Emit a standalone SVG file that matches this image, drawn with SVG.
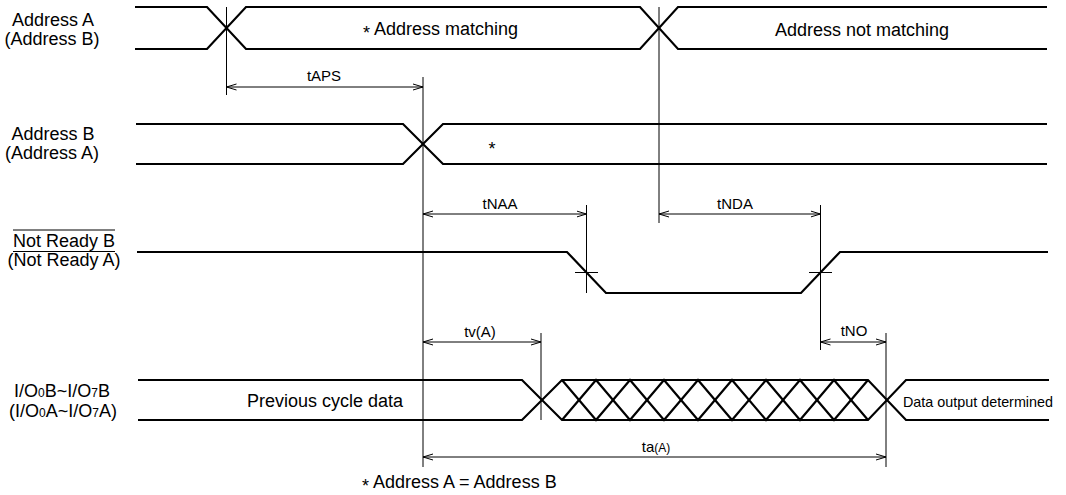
<svg xmlns="http://www.w3.org/2000/svg" width="1066" height="495" viewBox="0 0 1066 495">
<style>
  .sig{fill:none;stroke:#000;stroke-width:2.2;stroke-linejoin:miter}
  .thin{fill:none;stroke:#000;stroke-width:1}
  .dim{fill:none;stroke:#000;stroke-width:1;marker-start:url(#ah);marker-end:url(#ah)}
  text{font-family:"Liberation Sans",Arial,Helvetica,sans-serif;fill:#000}
  .lbl{font-size:18px;text-anchor:middle}
  .big{font-size:18px}
  .t{font-size:15px;text-anchor:middle}
  .sub{font-size:12px}
</style>
<defs>
  <marker id="ah" viewBox="0 0 10 8" refX="10" refY="4" markerWidth="10" markerHeight="8" markerUnits="userSpaceOnUse" orient="auto-start-reverse">
    <path d="M0,1 L10,4 L0,7" fill="none" stroke="#000" stroke-width="1"/>
  </marker>
</defs>
<rect width="1066" height="495" fill="#fff"/>

<g id="sig-address-a">
  <text class="lbl" x="53" y="26">Address A</text>
  <text class="lbl" x="52" y="45">(Address B)</text>
  <path class="sig" d="M135,7 H207 L246,49 H640 L678,7 H1047"/>
  <path class="sig" d="M135,49 H207 L246,7 H640 L678,49 H1047"/>
  <text class="big" x="363" y="35"><tspan dy="4">*</tspan><tspan dy="-4"> Address matching</tspan></text>
  <text class="big" x="862" y="36" text-anchor="middle">Address not matching</text>
</g>

<g id="sig-address-b">
  <text class="lbl" x="53" y="140">Address B</text>
  <text class="lbl" x="52" y="159">(Address A)</text>
  <path class="sig" d="M136,124 H403 L443,164 H1047"/>
  <path class="sig" d="M136,164 H403 L443,124 H1047"/>
  <text class="big" x="492" y="155" text-anchor="middle">*</text>
</g>

<g id="sig-not-ready">
  <line class="thin" x1="13" y1="230" x2="115" y2="230" stroke-width="1.3"/>
  <text class="lbl" x="64" y="247">Not Ready B</text>
  <line class="thin" x1="13" y1="251.5" x2="115" y2="251.5" stroke-width="1.3"/>
  <text class="lbl" x="64" y="266">(Not Ready A)</text>
  <path class="sig" d="M137,252 H567 L606,293 H801 L840,252 H1048"/>
</g>

<g id="sig-io">
  <text class="lbl" x="62" y="397">I/O<tspan class="sub">0</tspan>B~I/O<tspan class="sub">7</tspan>B</text>
  <text class="lbl" x="63" y="417">(I/O<tspan class="sub">0</tspan>A~I/O<tspan class="sub">7</tspan>A)</text>
  <path class="sig" d="M138,380 H522 L562,420 H868 L906,380 H1049"/>
  <path class="sig" d="M138,420 H522 L562,380 H868 L906,420 H1049"/>
  <polyline class="sig" points="562,380 596,420 630,380 664,420 698,380 732,420 766,380 800,420 834,380 868,420"/>
  <polyline class="sig" points="562,420 596,380 630,420 664,380 698,420 732,380 766,420 800,380 834,420 868,380"/>
  <text class="big" x="325" y="407" text-anchor="middle">Previous cycle data</text>
  <text x="903" y="407" font-size="15" textLength="150" lengthAdjust="spacingAndGlyphs">Data output determined</text>
</g>

<g id="connectors">
  <line class="thin" x1="226.5" y1="7" x2="226.5" y2="95"/>
  <line class="thin" x1="423" y1="77" x2="423" y2="467"/>
  <line class="thin" x1="659" y1="7" x2="659" y2="223"/>
  <line class="thin" x1="586.5" y1="205" x2="586.5" y2="293"/>
  <line class="thin" x1="820.5" y1="205" x2="820.5" y2="350"/>
  <line class="thin" x1="541" y1="333" x2="541" y2="420"/>
  <line class="thin" x1="886" y1="333" x2="886" y2="467"/>
  <line class="thin" x1="575" y1="272.5" x2="598" y2="272.5"/>
  <line class="thin" x1="809" y1="272.5" x2="832" y2="272.5"/>

  <line class="dim" x1="226.5" y1="87" x2="423" y2="87"/>
  <line class="dim" x1="423" y1="214" x2="586.5" y2="214"/>
  <line class="dim" x1="659" y1="214" x2="820.5" y2="214"/>
  <line class="dim" x1="423" y1="342" x2="541" y2="342"/>
  <line class="dim" x1="820.5" y1="342" x2="886" y2="342"/>
  <line class="dim" x1="423" y1="457" x2="886" y2="457"/>

  <text class="t" x="324" y="81">tAPS</text>
  <text class="t" x="500" y="209">tNAA</text>
  <text class="t" x="735" y="209">tNDA</text>
  <text class="t" x="480" y="337">tv(A)</text>
  <text class="t" x="854" y="336">tNO</text>
  <text class="t" x="656" y="452">ta<tspan class="sub">(A)</tspan></text>
</g>

<text class="big" x="362" y="488"><tspan dy="4">*</tspan><tspan dy="-4"> Address A = Address B</tspan></text>
</svg>
